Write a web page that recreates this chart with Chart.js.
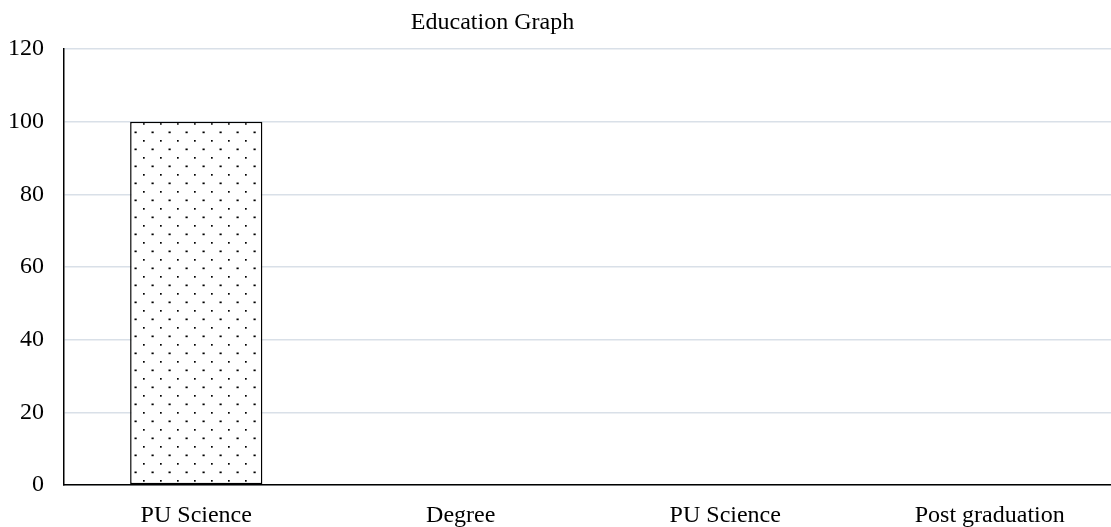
<!DOCTYPE html>
<html>
<head>
<meta charset="utf-8">
<script src="https://cdn.jsdelivr.net/npm/chart.js@4/dist/chart.umd.min.js"></script>
<style>
  html, body { margin: 0; padding: 0; background: #fff; overflow: hidden; }
  #wrap { position: relative; width: 1122px; height: 527px; }
</style>
</head>
<body>
<div id="wrap"><canvas id="chart"></canvas></div>
<script>
const categories = ['PU Science', 'Degree', 'PU Science', 'Post graduation'];
const percentages = [100, 0, 0, 0];
const yTicks = [0, 20, 40, 60, 80, 100, 120];
const chartTitle = 'Education Graph';

const FONT = '"Liberation Serif", "Times New Roman", serif';
const FONT_SIZE = 24;

// Dotted fill: staggered dots on a 17px tile
function dotPattern() {
  const c = document.createElement('canvas');
  c.width = 17; c.height = 17;
  const g = c.getContext('2d');
  g.fillStyle = '#fff';
  g.fillRect(0, 0, 17, 17);
  g.fillStyle = '#000';
  g.fillRect(7, 4, 1.7, 1.7);
  g.fillRect(15.5, 12.5, 1.7, 1.7);
  g.fillRect(-1, 12.5, 1.7, 1.7);
  return g.createPattern(c, 'repeat');
}

// Title sits left of the plot centre
const titlePlugin = {
  id: 'offsetTitle',
  afterDraw(chart) {
    const { ctx, chartArea } = chart;
    ctx.save();
    ctx.font = FONT_SIZE + 'px ' + FONT;
    ctx.fillStyle = '#000';
    ctx.textAlign = 'center';
    ctx.textBaseline = 'middle';
    const x = chartArea.left + chartArea.width * 0.405;
    ctx.fillText(chartTitle, x, 23);
    ctx.restore();
  }
};

new Chart(document.getElementById('chart'), {
  type: 'bar',
  data: {
    labels: categories,
    datasets: [{
      data: percentages,
      backgroundColor: dotPattern(),
      borderColor: '#000',
      borderWidth: 1.5,
      borderSkipped: false,
      barPercentage: 0.5,
      categoryPercentage: 1.0
    }]
  },
  options: {
    responsive: true,
    maintainAspectRatio: false,
    animation: false,
    layout: { padding: { top: 49, left: 8, right: 0, bottom: 0 } },
    plugins: {
      legend: { display: false },
      title: { display: false },
      tooltip: { enabled: false }
    },
    scales: {
      x: {
        grid: { display: false, drawTicks: false },
        border: { color: '#000', width: 1.5 },
        ticks: { color: '#000', font: { family: FONT, size: FONT_SIZE }, padding: 16 },
        afterFit(axis) { axis.height = 42; }
      },
      y: {
        min: 0,
        max: 120,
        afterBuildTicks(axis) { axis.ticks = yTicks.map(v => ({ value: v })); },
        grid: { color: '#d9e0e8', lineWidth: 1.5, drawTicks: false },
        border: { color: '#000', width: 1.5 },
        ticks: { color: '#000', font: { family: FONT, size: FONT_SIZE }, padding: 20 },
        afterFit(axis) { axis.width = 56; }
      }
    }
  },
  plugins: [titlePlugin]
});
</script>
</body>
</html>
